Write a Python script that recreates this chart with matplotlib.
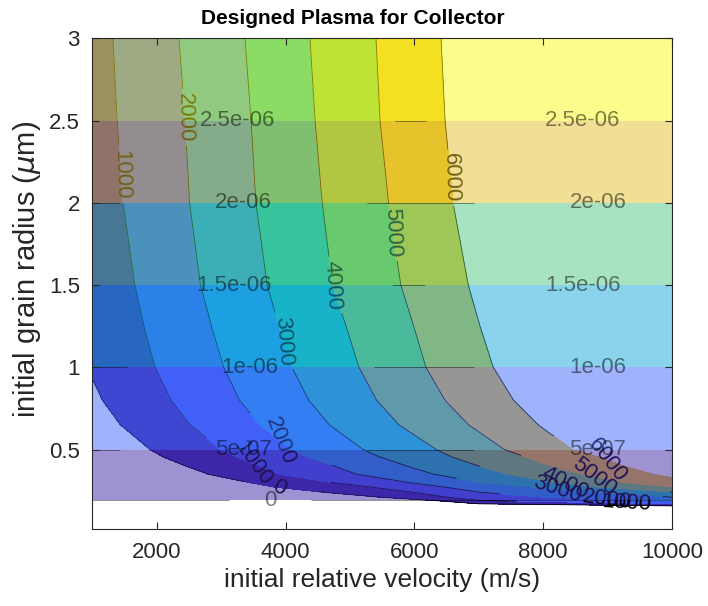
import numpy as np
import matplotlib
matplotlib.use('Agg')
import matplotlib.pyplot as plt
from matplotlib.colors import LinearSegmentedColormap

plt.rcParams['font.family'] = ['Liberation Sans', 'DejaVu Sans']

# parula samples (MATLAB default colormap)
parula_pts = [(0.2422, 0.1504, 0.6603), (0.2803, 0.2782, 0.9221), (0.2440, 0.4358, 0.9988),
              (0.1540, 0.5902, 0.9218), (0.0297, 0.7082, 0.8163), (0.1938, 0.7758, 0.6251),
              (0.5044, 0.7993, 0.3480), (0.8634, 0.7406, 0.1596), (0.9892, 0.8136, 0.1885),
              (0.9769, 0.9839, 0.0805)]
parula = LinearSegmentedColormap.from_list('parula', parula_pts)

# contour levels of the collector field (m/s)
c_levels = [0, 1000, 2000, 3000, 4000, 5000, 6000]
# grain radius rows (um) and velocity where each level is crossed
c_radius = [3.0, 2.5, 2.0, 1.5, 1.25, 1.0, 0.8, 0.65, 0.5, 0.455, 0.4, 0.35, 0.3,
            0.27, 0.24, 0.21, 0.19, 0.17, 0.155]
c_cross = [
    [300, 1321, 2346, 3371, 4380, 5405, 6415],
    [367, 1385, 2440, 3465, 4459, 5468, 6478],
    [452, 1477, 2510, 3540, 4570, 5600, 6601],
    [606, 1660, 2680, 3715, 4730, 5790, 6838],
    [735, 1800, 2850, 3900, 4940, 5990, 7020],
    [918, 1975, 3040, 4100, 5140, 6180, 7226],
    [1157, 2221, 3285, 4360, 5415, 6476, 7540],
    [1437, 2518, 3599, 4680, 5761, 6842, 7923],
    [1896, 3000, 4100, 5205, 6340, 7400, 8450],
    [2100, 3230, 4340, 5460, 6580, 7720, 8850],
    [2450, 3600, 4750, 5880, 7000, 8130, 9250],
    [2800, 3900, 5100, 6300, 7450, 8600, 9700],
    [3420, 4700, 5900, 7020, 8150, 9250, 10400],
    [3850, 5350, 6500, 7900, 8900, 10050, 11000],
    [4600, 5980, 7020, 8900, 10100, 11500, 13000],
    [5470, 6500, 8000, 10000, 11500, 13000, 14500],
    [6300, 7020, 9500, 11500, 13500, 15500, 17500],
    [7000, 10000, 13000, 16000, 19000, 22000, 25000],
    [10500, 14000, 17500, 21000, 24500, 28000, 31500],
]

# radius field levels (m) and the radius (um) where each is reached
a_levels = [0, 5e-07, 1e-06, 1.5e-06, 2e-06, 2.5e-06, 3e-06]
a_radius = [0.19, 0.5, 1.0, 1.5, 2.0, 2.5, 3.0]
v_range = [1000, 10000]

# build the curvilinear grid for the velocity contours
cross = np.array(c_cross, dtype=float)
X = np.column_stack([cross[:, 0] - 1000, cross, cross[:, -1] + 1000])
Z = np.tile(np.r_[-1000, c_levels, 7000], (len(c_radius), 1)).astype(float)
Y = np.tile(np.array(c_radius)[:, None], (1, X.shape[1]))

# grid for the radius bands (one extra row below to close the 0 line)
ar = np.r_[0.05, a_radius]
av = np.r_[-1e-07, a_levels]
AX, AY = np.meshgrid(v_range, ar)
AZ = np.tile(av[:, None], (1, 2))

fig = plt.figure(figsize=(7.08, 6.06), dpi=100)
ax = fig.add_axes([0.1304, 0.1266, 0.8186, 0.8102])

c_cols = [parula(k / 6) for k in range(6)]
cf = ax.contourf(X, Y, Z, levels=c_levels, colors=c_cols, zorder=1)
cl = ax.contour(X, Y, Z, levels=c_levels, colors='k', linewidths=0.6, zorder=1.1)
c_lab_pos = [(1445, 2.17), (2395, 2.52), (3930, 1.16), (4770, 1.5), (5590, 1.82), (6550, 2.15),
             (3900, 0.554), (3550, 0.42), (3900, 0.266),
             (8930, 0.43), (8760, 0.332), (8310, 0.284), (8160, 0.24), (9000, 0.2), (9300, 0.183)]
ct = ax.clabel(cl, manual=c_lab_pos, fmt='%g', inline=True, fontsize=16, colors='k')
for t in ct:
    t.set_zorder(1.2)

a_cols = [parula(i / 5) for i in range(6)]
af = ax.contourf(AX, AY, AZ, levels=a_levels, colors=a_cols, alpha=0.5, zorder=2)
al = ax.contour(AX, AY, AZ, levels=a_levels[:-1], colors='k', linewidths=0.6, alpha=0.5, zorder=2.1)
a_lab_pos = [(3260, 2.5), (8620, 2.5), (3350, 2.0), (8850, 2.0), (3200, 1.5), (8620, 1.5),
             (3450, 1.0), (8850, 1.0), (3350, 0.5), (8850, 0.5), (3760, 0.19)]
at = ax.clabel(al, manual=a_lab_pos, fmt='%g', inline=True, fontsize=16, colors='k')
for t in at:
    t.set_zorder(2.2)
    t.set_alpha(0.5)

ax.set_xlim(1000, 10000)
ax.set_ylim(0.015, 3)
ax.set_xticks([2000, 4000, 6000, 8000, 10000])
ax.set_yticks([0.5, 1, 1.5, 2, 2.5, 3])
ax.set_yticklabels(['0.5', '1', '1.5', '2', '2.5', '3'])
ax.set_axisbelow(False)
ax.tick_params(direction='in', top=True, right=True, length=5, width=0.8,
               labelsize=16, colors='#262626', pad=9)
for s in ax.spines.values():
    s.set_color('#262626')
    s.set_linewidth(0.8)

ax.set_xlabel('initial relative velocity (m/s)', fontsize=19, color='#262626', labelpad=4)
ax.set_ylabel(r'initial grain radius ($\mu$m)', fontsize=21, color='#262626')
ax.yaxis.set_label_coords(-0.085, 0.53)
ax.set_title('Designed Plasma for Collector', fontsize=15, fontweight='bold', pad=10, x=0.449)

fig.savefig('out.png', dpi=100)
